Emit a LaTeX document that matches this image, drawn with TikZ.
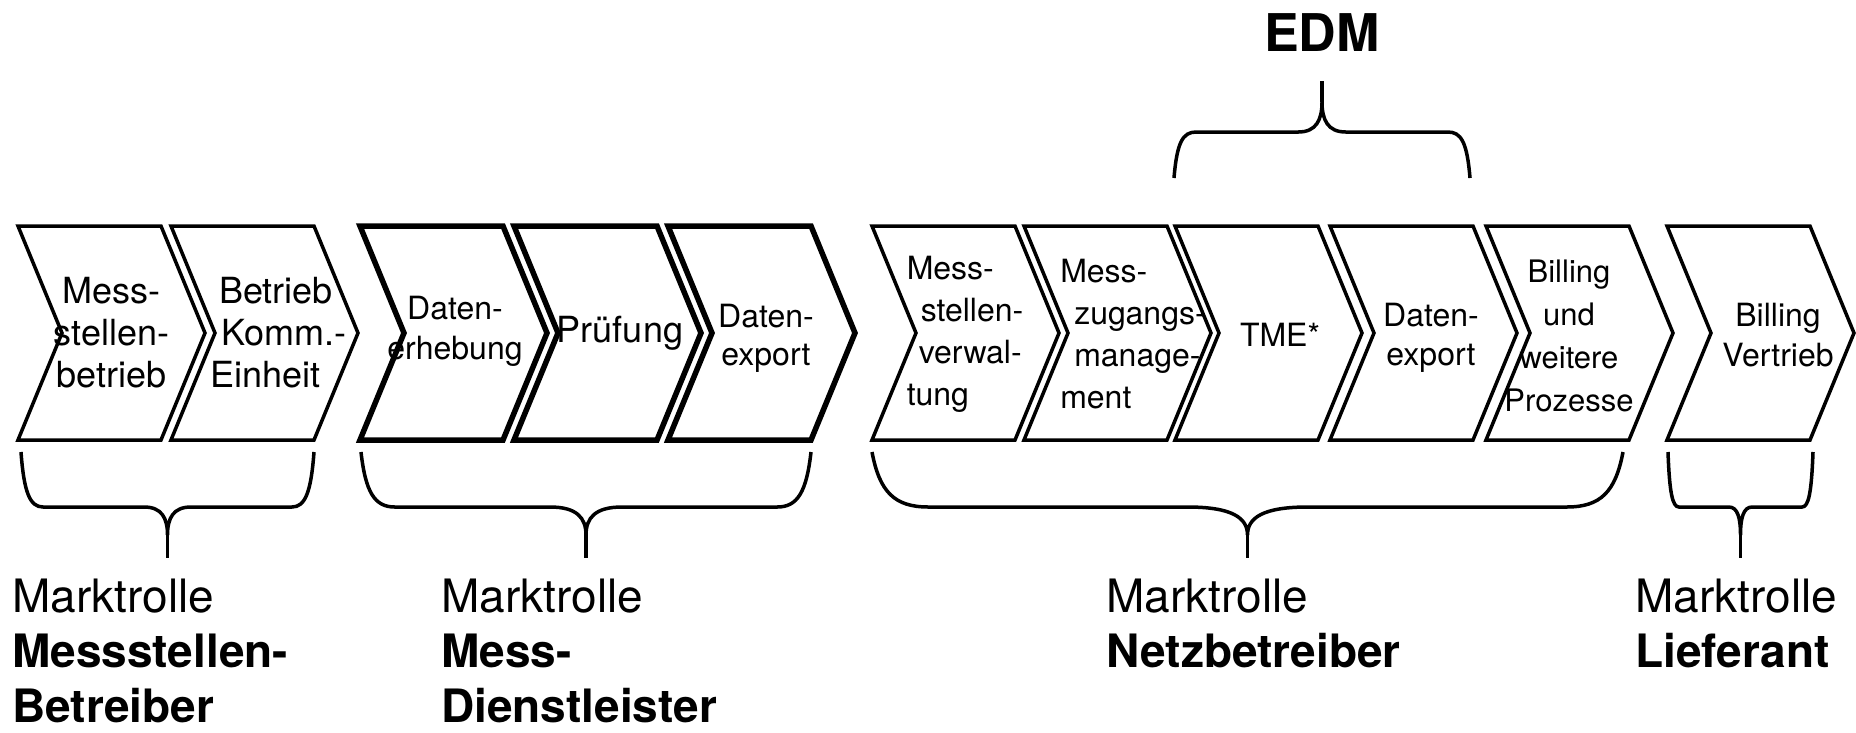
\documentclass[tikz,border=0pt]{standalone}
\usepackage{fontspec}
\setmainfont{TeX Gyre Heros}
\newcommand{\chevshape}[2]{%
  \draw[#2] (#1,226) -- ++(143,0) -- ++(44,107) -- ++(-44,107) -- ++(-143,0) -- ++(44,-107) -- cycle;}
\newcommand{\bracedown}[2]{%
  \begin{scope}[shift={(#1,0)}, xscale=#2]
    \draw[brc] (0,452) .. controls (0.01,492) and (0.03,507) .. (0.075,507) -- (0.42,507)
      .. controls (0.48,507) and (0.5,518) .. (0.5,535)
      .. controls (0.5,518) and (0.52,507) .. (0.58,507) -- (0.925,507)
      .. controls (0.97,507) and (0.99,492) .. (1,452);
    \draw[brc] (0.5,535) -- (0.5,558);
  \end{scope}}
\newcommand{\braceup}[2]{%
  \begin{scope}[shift={(#1,0)}, xscale=#2]
    \draw[brc] (0,178) .. controls (0.01,142) and (0.03,132) .. (0.075,132) -- (0.42,132)
      .. controls (0.48,132) and (0.5,120) .. (0.5,102)
      .. controls (0.5,120) and (0.52,132) .. (0.58,132) -- (0.925,132)
      .. controls (0.97,132) and (0.99,142) .. (1,178);
    \draw[brc] (0.5,102) -- (0.5,81);
  \end{scope}}
\begin{document}
\begin{tikzpicture}[x=1pt,y=-1pt,
  chev/.style={draw=black, line width=3.5pt, line join=miter, fill=white},
  chevbold/.style={chev, line width=5.5pt},
  ctext/.style={inner sep=0pt, align=center, text=black},
  brc/.style={draw=black, line width=3.5pt},
  role/.style={inner sep=0pt, align=left, anchor=north west, font=\fontsize{46}{55}\selectfont}]
\useasboundingbox (0,0) rectangle (1856,732);

% chevrons
\chevshape{18}{chev}
\chevshape{171}{chev}
\chevshape{360}{chevbold}
\chevshape{514}{chevbold}
\chevshape{668}{chevbold}
\chevshape{872}{chev}
\chevshape{1024}{chev}
\chevshape{1175}{chev}
\chevshape{1330}{chev}
\chevshape{1486}{chev}
\chevshape{1667}{chev}

% chevron texts
\node[ctext, font=\fontsize{36}{42}\selectfont] (c1) at (111.5,333) {Mess-\\stellen-\\betrieb};
\node[ctext, align=left, anchor=west, font=\fontsize{36}{42}\selectfont] (c2) at (210,333) {\hspace*{9pt}Betrieb\\\hspace*{11pt}Komm.-\\Einheit};
\node[ctext, font=\fontsize{32}{40}\selectfont] (c3) at (455,331) {Daten-\\erhebung};
\node[ctext, font=\fontsize{36}{42}\selectfont] (c4) at (620,333) {Prüfung};
\node[ctext, font=\fontsize{32}{38}\selectfont] (c5) at (766,338) {Daten-\\export};
\node[ctext, align=left, font=\fontsize{32}{42}\selectfont] (c6) at (965,334) {Mess-\\\hspace*{14pt}stellen-\\\hspace*{12pt}verwal-\\tung};
\node[ctext, align=left, font=\fontsize{32}{42}\selectfont] (c7) at (1133,334) {Mess-\\\hspace*{14pt}zugangs-\\\hspace*{14pt}manage-\\ment};
\node[ctext, font=\fontsize{32}{40}\selectfont] (c8) at (1280,335) {TME*};
\node[ctext, font=\fontsize{32}{39}\selectfont] (c9) at (1431,338) {Daten-\\export};
\node[ctext, font=\fontsize{31}{43}\selectfont] (c10) at (1569,336) {Billing\\und\\weitere\\Prozesse};
\node[ctext, font=\fontsize{32}{40}\selectfont] (c11) at (1778,335) {Billing\\Vertrieb};

% EDM
\node[inner sep=0pt, anchor=base, font=\fontsize{52}{60}\selectfont\bfseries] (edm) at (1322,51) {EDM};
\braceup{1174}{296}

% lower braces
\bracedown{21}{293}
\bracedown{361}{450}
\bracedown{872}{751}
\bracedown{1668}{145}

% roles
\node[role] (r1) at (12,579) {Marktrolle\\\textbf{Messstellen-}\\\textbf{Betreiber}};
\node[role] (r2) at (441,579) {Marktrolle\\\textbf{Mess-}\\\textbf{Dienstleister}};
\node[role] (r3) at (1106,579) {Marktrolle\\\textbf{Netzbetreiber}};
\node[role] (r4) at (1635,579) {Marktrolle\\\textbf{Lieferant}};
\end{tikzpicture}
\end{document}
